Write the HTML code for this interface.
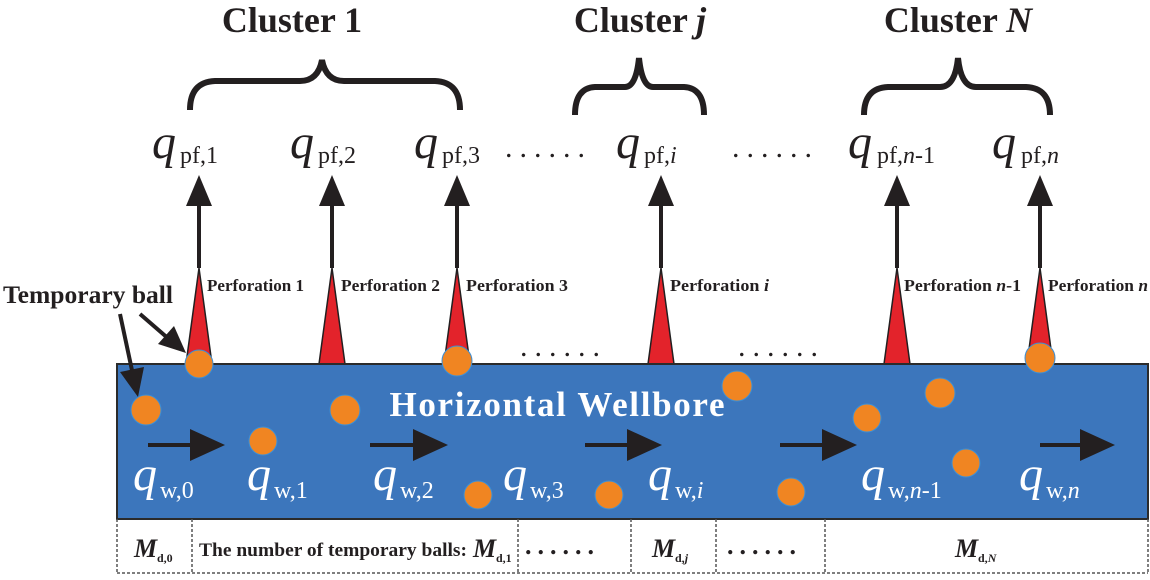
<!DOCTYPE html>
<html><head><meta charset="utf-8"><style>
html,body{margin:0;padding:0;background:#fff}
svg{display:block}
.ser{font-family:"Liberation Serif",serif}
</style></head><body>
<svg width="1150" height="580" viewBox="0 0 1150 580" xmlns="http://www.w3.org/2000/svg" class="ser">
<!-- cluster titles -->
<g font-weight="bold" font-size="36" fill="#231f20">
<text x="292" y="32" text-anchor="middle">Cluster 1</text>
<text x="640" y="32" text-anchor="middle">Cluster <tspan font-style="italic">j</tspan></text>
<text x="958" y="32" text-anchor="middle">Cluster <tspan font-style="italic">N</tspan></text>
</g>
<!-- braces -->
<g fill="none" stroke="#231f20" stroke-width="6">
<path d="M190,110 Q190,82 215,81 L300,81 Q318,81 322,60 Q326,81 344,81 L435,81 Q460,82 460,110"/>
<path d="M575,115 Q575,88 595,87 L625,87 Q636,87 639,58 Q642,87 653,87 L684,87 Q704,88 704,115"/>
<path d="M864,115 Q864,88 888,87 L940,87 Q955,87 958,58 Q961,87 976,87 L1026,87 Q1050,88 1050,115"/>
</g>
<!-- q_pf labels -->
<g fill="#231f20">
<g font-size="48" font-style="italic"><text x="152" y="158">q</text><text x="290" y="158">q</text><text x="414" y="158">q</text><text x="616" y="158">q</text><text x="848" y="158">q</text><text x="992" y="158">q</text></g>
<g font-size="24">
<text x="180" y="163">pf,1</text><text x="318" y="163">pf,2</text><text x="442" y="163">pf,3</text>
<text x="644" y="163">pf,<tspan font-style="italic">i</tspan></text>
<text x="877" y="163">pf,<tspan font-style="italic">n</tspan>-1</text>
<text x="1021" y="163">pf,<tspan font-style="italic">n</tspan></text>
</g>
<g font-size="30" letter-spacing="7"><text x="505" y="157">......</text><text x="732" y="157">......</text><text x="520" y="356">......</text><text x="738" y="356">......</text></g>
</g>
<!-- up arrows -->
<g fill="#231f20" stroke="#231f20">
<g stroke-width="4">
<line x1="199" y1="268" x2="199" y2="200"/><line x1="332" y1="268" x2="332" y2="200"/><line x1="457" y1="268" x2="457" y2="200"/>
<line x1="661" y1="268" x2="661" y2="200"/><line x1="897" y1="268" x2="897" y2="200"/><line x1="1040" y1="268" x2="1040" y2="200"/>
</g>
<g stroke="none">
<polygon points="199,175 186,206 212,206"/><polygon points="332,175 319,206 345,206"/><polygon points="457,175 444,206 470,206"/>
<polygon points="661,175 648,206 674,206"/><polygon points="897,175 884,206 910,206"/><polygon points="1040,175 1027,206 1053,206"/>
</g>
</g>
<!-- perforations -->
<g fill="#e3232b" stroke="#231f20" stroke-width="1.5">
<polygon points="199,268 186,364 212,364"/><polygon points="332,268 319,364 345,364"/><polygon points="457,268 444,364 470,364"/>
<polygon points="661,268 648,364 674,364"/><polygon points="897,268 884,364 910,364"/><polygon points="1040,268 1027,364 1053,364"/>
</g>
<g font-weight="bold" font-size="17" fill="#231f20">
<text x="207" y="291" textLength="97" lengthAdjust="spacingAndGlyphs">Perforation 1</text>
<text x="341" y="291" textLength="99" lengthAdjust="spacingAndGlyphs">Perforation 2</text>
<text x="466" y="291" textLength="102" lengthAdjust="spacingAndGlyphs">Perforation 3</text>
<text x="670" y="291" textLength="99" lengthAdjust="spacingAndGlyphs">Perforation <tspan font-style="italic">i</tspan></text>
<text x="904" y="291" textLength="117" lengthAdjust="spacingAndGlyphs">Perforation <tspan font-style="italic">n</tspan>-1</text>
<text x="1048" y="291" textLength="100" lengthAdjust="spacingAndGlyphs">Perforation <tspan font-style="italic">n</tspan></text>
</g>
<!-- wellbore -->
<rect x="117" y="364" width="1031" height="155" fill="#3c76bc" stroke="#2b2b2b" stroke-width="2"/>
<text x="557" y="416" text-anchor="middle" font-weight="bold" font-size="35" fill="#fff" textLength="335" lengthAdjust="spacing">Horizontal Wellbore</text>
<!-- flow arrows -->
<g fill="#231f20">
<g stroke="#231f20" stroke-width="4">
<line x1="148" y1="445" x2="195" y2="445"/><line x1="370" y1="445" x2="418" y2="445"/><line x1="585" y1="445" x2="632" y2="445"/><line x1="780" y1="445" x2="827" y2="445"/><line x1="1040" y1="445" x2="1085" y2="445"/>
</g>
<polygon points="225,445 190,429 190,461"/><polygon points="448,445 413,429 413,461"/><polygon points="662,445 627,429 627,461"/><polygon points="857,445 822,429 822,461"/><polygon points="1115,445 1080,429 1080,461"/>
</g>
<!-- balls -->
<g fill="#f08522" stroke="#3a8fd8" stroke-width="1">
<circle cx="199" cy="364" r="14"/><circle cx="146" cy="410" r="15"/><circle cx="263" cy="441" r="14"/><circle cx="345" cy="410" r="15"/>
<circle cx="457" cy="361" r="15"/><circle cx="478" cy="495" r="14"/><circle cx="609" cy="495" r="14"/><circle cx="737" cy="386" r="15"/>
<circle cx="791" cy="492" r="14"/><circle cx="867" cy="418" r="14"/><circle cx="940" cy="393" r="15"/><circle cx="966" cy="463" r="14"/>
<circle cx="1040" cy="358" r="15"/>
</g>
<!-- Temporary ball label and arrows -->
<text x="3" y="303" font-weight="bold" font-size="25" fill="#231f20" textLength="170" lengthAdjust="spacingAndGlyphs">Temporary ball</text>
<g stroke="#231f20" stroke-width="4" fill="#231f20">
<line x1="120" y1="314" x2="133" y2="375"/><line x1="140" y1="314" x2="170" y2="340"/>
</g>
<g fill="#231f20"><polygon points="138,397 120,372 144,367"/><polygon points="186,353 158,344 174,326"/></g>
<!-- q_w labels -->
<g fill="#fff">
<g font-size="48" font-style="italic"><text x="133" y="490">q</text><text x="247" y="490">q</text><text x="373" y="490">q</text><text x="503" y="490">q</text><text x="648" y="490">q</text><text x="861" y="490">q</text><text x="1019" y="490">q</text></g>
<g font-size="24">
<text x="160" y="498">w,0</text><text x="274" y="498">w,1</text><text x="400" y="498">w,2</text><text x="530" y="498">w,3</text>
<text x="675" y="498">w,<tspan font-style="italic">i</tspan></text>
<text x="888" y="498">w,<tspan font-style="italic">n</tspan>-1</text>
<text x="1046" y="498">w,<tspan font-style="italic">n</tspan></text>
</g>
</g>
<!-- bottom dashed table -->
<g fill="none" stroke="#555" stroke-width="1.5" stroke-dasharray="3,2">
<line x1="117" y1="519" x2="117" y2="573"/><line x1="117" y1="573" x2="1148" y2="573"/><line x1="1148" y1="519" x2="1148" y2="573"/>
<line x1="192" y1="519" x2="192" y2="573"/><line x1="518" y1="519" x2="518" y2="573"/><line x1="631" y1="519" x2="631" y2="573"/><line x1="716" y1="519" x2="716" y2="573"/><line x1="825" y1="519" x2="825" y2="573"/>
</g>
<g fill="#231f20" font-weight="bold">
<text x="134" y="557" font-size="26" font-style="italic">M</text><text x="157" y="562" font-size="12">d,0</text>
<text x="199" y="556" font-size="19" textLength="268" lengthAdjust="spacingAndGlyphs">The number of temporary balls:</text>
<text x="473" y="557" font-size="26" font-style="italic">M</text><text x="496" y="562" font-size="12">d,1</text>
<text x="525" y="554" font-size="26" letter-spacing="6">......</text>
<text x="652" y="557" font-size="26" font-style="italic">M</text><text x="675" y="562" font-size="12">d,<tspan font-style="italic">j</tspan></text>
<text x="727" y="554" font-size="26" letter-spacing="6">......</text>
<text x="955" y="557" font-size="26" font-style="italic">M</text><text x="978" y="562" font-size="12">d,<tspan font-style="italic">N</tspan></text>
</g>
</svg>
</body></html>
